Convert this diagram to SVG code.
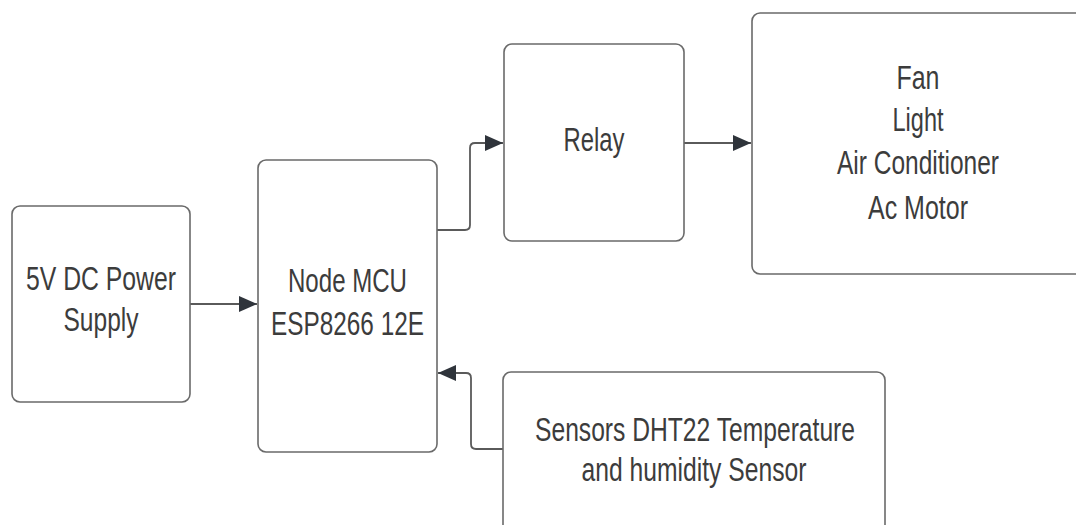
<svg xmlns="http://www.w3.org/2000/svg" width="1076" height="525" viewBox="0 0 1076 525">
<style>
.box{fill:#ffffff;stroke:#6a6a6a;stroke-width:1.6}
.lbl{font-family:"Liberation Sans",Arial,sans-serif;font-size:34px;fill:#3c3c3c;text-anchor:middle}
.conn{fill:none;stroke:#5a5a5a;stroke-width:1.8}
</style>
<defs>
<marker id="arr" viewBox="0 0 18 16" refX="18" refY="8" markerWidth="18" markerHeight="16" markerUnits="userSpaceOnUse" orient="auto">
<path d="M0,0 L18,8 L0,16 Z" fill="#2f343b"/>
</marker>
</defs>
<rect width="1076" height="525" fill="#ffffff"/>
<g id="connectors">
<path class="conn" d="M190,304 L257,304" marker-end="url(#arr)"/>
<path class="conn" d="M437,230 L465,230 Q470,230 470,225 L470,148 Q470,143 475,143 L503,143" marker-end="url(#arr)"/>
<path class="conn" d="M684,143 L751,143" marker-end="url(#arr)"/>
<path class="conn" d="M503,449 L476,449 Q471,449 471,444 L471,378 Q471,373 466,373 L438,373" marker-end="url(#arr)"/>
</g>
<g id="power">
<rect class="box" x="12" y="206" width="178" height="196" rx="8"/>
<text class="lbl" x="101" y="290" textLength="150" lengthAdjust="spacingAndGlyphs">5V DC Power</text>
<text class="lbl" x="101" y="331" textLength="75" lengthAdjust="spacingAndGlyphs">Supply</text>
</g>
<g id="mcu">
<rect class="box" x="258" y="160" width="179" height="292" rx="8"/>
<text class="lbl" x="347.5" y="292" textLength="119" lengthAdjust="spacingAndGlyphs">Node MCU</text>
<text class="lbl" x="347.5" y="335" textLength="153" lengthAdjust="spacingAndGlyphs">ESP8266 12E</text>
</g>
<g id="relay">
<rect class="box" x="504" y="44" width="180" height="197" rx="8"/>
<text class="lbl" x="594" y="151" textLength="61" lengthAdjust="spacingAndGlyphs">Relay</text>
</g>
<g id="loads">
<rect class="box" x="752" y="13" width="334" height="261" rx="8"/>
<text class="lbl" x="918" y="89" textLength="43" lengthAdjust="spacingAndGlyphs">Fan</text>
<text class="lbl" x="918" y="131" textLength="51" lengthAdjust="spacingAndGlyphs">Light</text>
<text class="lbl" x="918" y="174" textLength="162" lengthAdjust="spacingAndGlyphs">Air Conditioner</text>
<text class="lbl" x="918" y="219" textLength="100" lengthAdjust="spacingAndGlyphs">Ac Motor</text>
</g>
<g id="sensor">
<rect class="box" x="503" y="372" width="382" height="165" rx="8"/>
<text class="lbl" x="695" y="441" textLength="320" lengthAdjust="spacingAndGlyphs">Sensors DHT22 Temperature</text>
<text class="lbl" x="694" y="481" textLength="225" lengthAdjust="spacingAndGlyphs">and humidity Sensor</text>
</g>
</svg>
